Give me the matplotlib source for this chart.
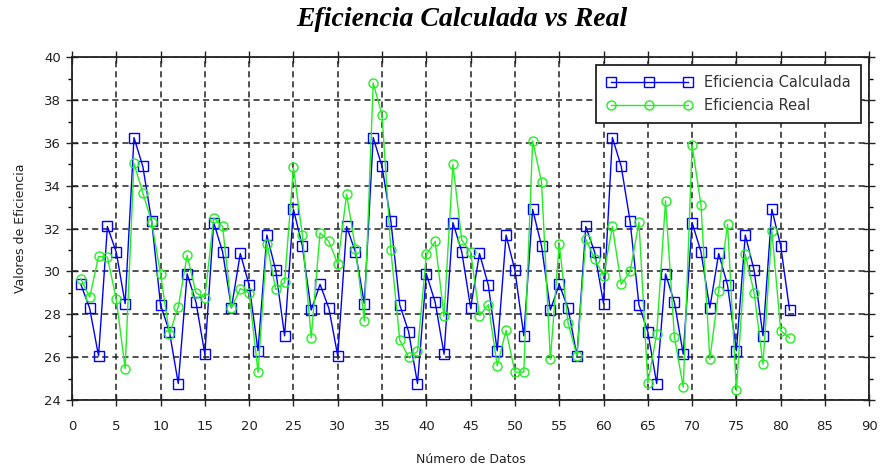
import matplotlib
matplotlib.use("Agg")
import matplotlib.pyplot as plt
from matplotlib.ticker import MultipleLocator

# --------------------------------------------------
# Data
# --------------------------------------------------
n_datos = list(range(1, 82))

ef_calculada = [
    29.4, 28.28, 26.06, 32.1, 30.9, 28.5, 36.25, 34.9, 32.34, 28.44,
    27.19, 24.77, 29.89, 28.56, 26.14, 32.28, 30.92, 28.3, 30.84, 29.36,
    26.3, 31.7, 30.05, 27.0, 32.9, 31.2, 28.2,
    29.4, 28.28, 26.06, 32.1, 30.9, 28.5, 36.25, 34.9, 32.34, 28.44,
    27.19, 24.77, 29.89, 28.56, 26.14, 32.28, 30.92, 28.3, 30.84, 29.36,
    26.3, 31.7, 30.05, 27.0, 32.9, 31.2, 28.2,
    29.4, 28.28, 26.06, 32.1, 30.9, 28.5, 36.25, 34.9, 32.34, 28.44,
    27.19, 24.77, 29.89, 28.56, 26.14, 32.28, 30.92, 28.3, 30.84, 29.36,
    26.3, 31.7, 30.05, 27.0, 32.9, 31.2, 28.2,
]

ef_real = [
    29.65, 28.8, 30.7, 30.67, 28.7, 25.47, 35.05, 33.67, 32.3, 29.87,
    27.08, 28.36, 30.75, 29.0, 28.78, 32.5, 32.1, 28.3, 29.2, 29.0,
    25.3, 31.3, 29.16, 29.5, 34.86, 31.72, 26.9, 31.8, 31.4, 30.36,
    33.6, 31.06, 27.7, 38.8, 37.3, 30.98, 26.8, 26.0, 26.27, 30.8,
    31.4, 27.9, 35.0, 31.46, 30.9, 27.94, 28.45, 25.6, 27.25, 25.3,
    25.3, 36.1, 34.18, 25.9, 31.3, 27.6, 26.06, 31.5, 30.6, 29.8,
    32.1, 29.4, 30.0, 32.3, 24.8, 27.08, 33.3, 26.95, 24.6, 35.9,
    33.1, 25.9, 29.1, 32.2, 24.45, 30.8, 29.0, 25.67, 31.9, 27.23,
    26.9,
]

# --------------------------------------------------
# Figure
# --------------------------------------------------
fig = plt.figure(figsize=(8.82, 4.69), dpi=100)
ax = fig.add_axes([0.0816, 0.147, 0.904, 0.731])

ax.plot(n_datos, ef_calculada, color="#0000ff", lw=1.0, marker="s",
        ms=6.5, mfc="none", mec="#0000ff", mew=1.0,
        label="Eficiencia Calculada")
ax.plot(n_datos, ef_real, color="#22ee22", lw=1.0, marker="o",
        ms=6.5, mfc="none", mec="#22ee22", mew=1.0,
        label="Eficiencia Real")

ax.set_xlim(0, 90)
ax.set_ylim(24, 40)
ax.xaxis.set_major_locator(MultipleLocator(5))
ax.yaxis.set_major_locator(MultipleLocator(2))
ax.yaxis.set_minor_locator(MultipleLocator(1))

ax.grid(True, which="major", color="#222222", linestyle=(0, (4, 2.6)),
        linewidth=1.1)
ax.tick_params(which="major", direction="inout", length=8, width=1.0,
               labelsize=9.5, colors="#222222", top=True, right=True)
ax.tick_params(axis="x", which="major", pad=10)
ax.tick_params(axis="y", which="major", pad=4)
ax.tick_params(which="minor", direction="out", length=3, width=1.0,
               right=True)
for s in ax.spines.values():
    s.set_linewidth(1.3)
    s.set_color("#222222")

ax.set_xlabel("Número de Datos", fontsize=9, color="#222222", labelpad=15)
ax.set_ylabel("Valores de Eficiencia", fontsize=9, color="#222222",
              labelpad=12)

fig.suptitle("Eficiencia Calculada vs Real", x=0.524, y=0.985,
             fontsize=20, fontweight="bold", fontstyle="italic",
             family="Liberation Serif")

leg = ax.legend(loc="upper right", numpoints=3, fontsize=10.5,
                fancybox=False, edgecolor="#222222", framealpha=1,
                handlelength=5.9, handletextpad=0.8, borderpad=0.7,
                labelspacing=0.55, borderaxespad=0.3,
                bbox_to_anchor=(0.995, 0.99))
leg.get_frame().set_linewidth(1.3)
for t in leg.get_texts():
    t.set_color("#333333")

plt.savefig("out.png", dpi=100)
plt.close()
